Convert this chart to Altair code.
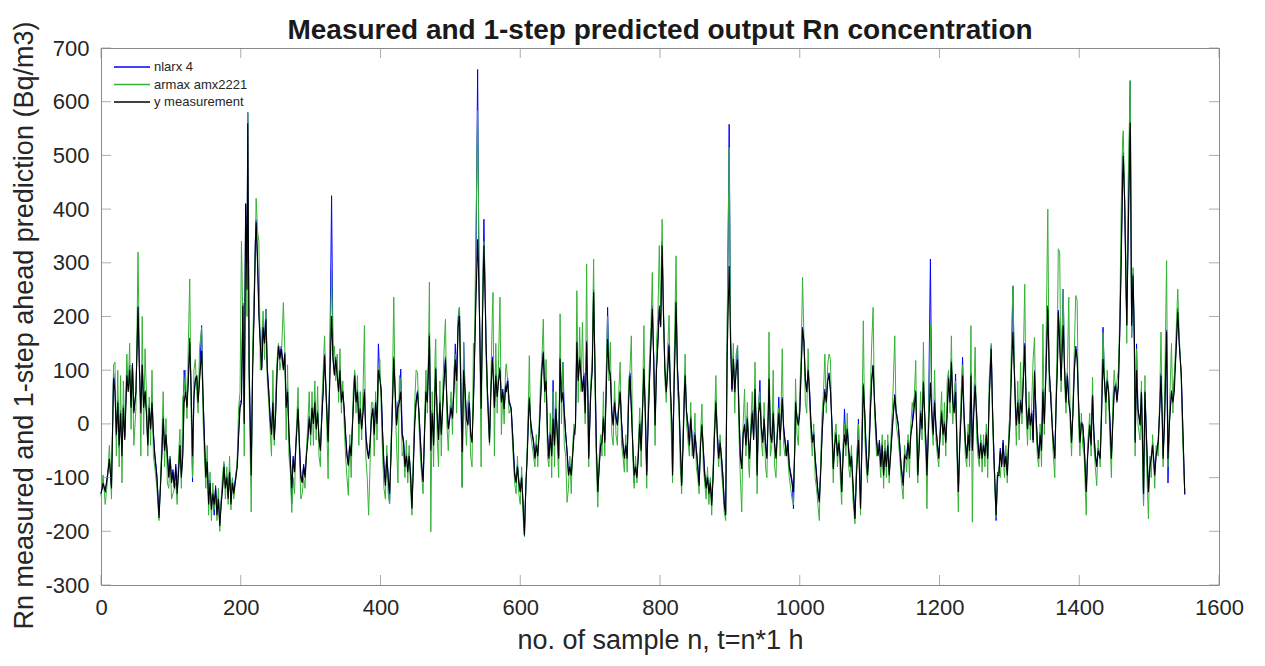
import altair as alt
import pandas as pd

SAMPLE_N = [
    0,3,6,9,12,15,18,20,22,24,
    26,28,30,32,34,37,39,41,43,45,
    47,50,53,55,57,59,61,63,65,67,
    69,71,73,75,77,80,83,85,87,89,
    91,93,95,97,99,101,103,105,107,109,
    111,113,115,117,119,121,123,125,127,129,
    131,133,135,137,139,141,144,146,148,150,
    152,154,156,158,160,162,164,166,168,170,
    172,174,176,178,180,182,184,186,188,190,
    193,195,197,199,201,203,205,207,209,210,
    212,215,217,219,221,222,224,226,228,230,
    232,234,236,238,240,242,244,246,248,250,
    252,254,256,258,261,263,265,267,269,271,
    273,275,277,279,282,284,286,288,290,292,
    294,296,298,300,302,304,306,308,310,312,
    314,316,318,320,322,325,327,330,332,334,
    336,338,340,342,344,346,348,350,352,354,
    356,358,361,363,365,367,369,371,373,375,
    377,379,381,383,385,387,389,391,393,395,
    397,399,401,403,405,407,409,411,413,415,
    417,419,421,423,425,427,429,431,433,435,
    437,439,441,443,445,447,449,451,453,455,
    457,459,461,463,465,467,469,470,472,474,
    476,478,479,481,483,485,487,489,491,493,
    495,497,499,501,503,505,507,509,511,513,
    515,517,519,521,523,525,527,529,531,533,
    534,536,539,541,544,546,548,550,551,553,
    556,558,560,561,563,565,567,569,571,573,
    575,577,579,580,582,584,587,589,592,594,
    596,598,600,602,604,606,608,610,612,613,
    615,617,619,621,623,625,627,629,631,633,
    635,637,639,641,643,645,647,649,651,653,
    655,657,659,661,663,665,667,669,671,673,
    675,677,679,681,683,685,687,689,691,693,
    695,697,698,700,701,703,705,707,709,711,
    713,715,717,719,721,723,725,727,729,731,
    733,735,737,739,741,743,745,747,749,751,
    753,755,757,759,761,763,765,767,769,771,
    773,775,777,779,781,783,785,787,789,791,
    793,795,797,799,801,803,805,807,809,811,
    813,815,817,818,820,823,825,827,829,831,
    833,835,836,838,840,842,844,846,848,850,
    852,854,856,858,860,862,864,866,868,870,
    872,874,876,878,880,882,884,886,888,890,
    892,894,896,899,901,903,905,907,909,911,
    913,915,917,919,921,923,925,927,928,930,
    932,934,936,938,939,941,943,945,947,949,
    951,953,955,956,958,960,962,964,966,968,
    970,972,975,977,979,981,983,985,987,989,
    991,993,994,996,998,1000,1002,1004,1006,1008,
    1010,1012,1014,1016,1018,1020,1022,1024,1026,1028,
    1030,1032,1034,1036,1038,1040,1042,1044,1046,1048,
    1050,1052,1054,1056,1058,1060,1062,1064,1066,1068,
    1070,1072,1074,1076,1079,1081,1084,1087,1089,1091,
    1093,1095,1097,1099,1101,1103,1105,1107,1110,1112,
    1114,1116,1118,1120,1122,1124,1126,1128,1130,1133,
    1136,1138,1141,1143,1145,1148,1150,1153,1155,1157,
    1159,1161,1163,1166,1168,1169,1171,1173,1175,1177,
    1179,1181,1182,1184,1187,1189,1191,1193,1195,1197,
    1199,1201,1203,1205,1207,1209,1211,1213,1215,1217,
    1219,1221,1223,1225,1227,1229,1231,1233,1235,1237,
    1239,1241,1243,1245,1247,1249,1251,1253,1255,1257,
    1259,1261,1263,1265,1267,1269,1271,1274,1276,1278,
    1281,1283,1285,1287,1289,1291,1293,1295,1297,1299,
    1301,1303,1305,1307,1309,1310,1312,1314,1316,1318,
    1320,1322,1324,1326,1328,1330,1332,1334,1336,1338,
    1340,1342,1344,1346,1348,1350,1352,1355,1357,1360,
    1362,1365,1367,1369,1370,1372,1374,1377,1379,1381,
    1383,1385,1387,1389,1391,1393,1395,1397,1399,1401,
    1403,1405,1407,1410,1412,1415,1417,1419,1421,1423,
    1425,1427,1430,1432,1434,1436,1438,1440,1442,1444,
    1446,1448,1450,1452,1454,1456,1458,1460,1462,1463,
    1465,1467,1468,1470,1473,1475,1477,1479,1480,1482,
    1484,1487,1489,1491,1492,1494,1496,1499,1501,1503,
    1505,1508,1510,1513,1515,1517,1519,1520,1522,1525,
    1527,1529,1532,1534,1536,1538,1541,1543,1546,1548,
    1551,
]

# y measurement (black)
Y_MEAS = [
    -130,-110,-125,-100,-65,-120,85,60,-20,40,
    -40,20,-60,30,-30,90,60,100,30,110,
    20,60,217,100,20,110,30,60,20,-40,
    30,-10,40,-20,-60,-100,-175,-120,-60,10,
    -50,-20,-60,-100,-65,-110,-90,-120,-80,-130,
    -90,-40,-100,-60,40,60,30,80,152,60,
    -60,50,80,90,40,80,136,50,-30,-100,
    -70,-150,-110,-160,-130,-150,-120,-170,-140,-190,
    -150,-120,-80,-120,-100,-140,-90,-150,-110,-130,
    -100,-80,-20,30,40,220,0,410,250,560,
    100,-96,100,200,340,375,300,200,150,100,
    180,150,195,100,60,10,-20,40,-30,20,
    100,145,120,140,100,130,30,60,-20,-70,
    -120,-65,-90,-40,28,-40,-100,-110,-80,-100,
    -60,-30,10,-20,30,0,40,-10,20,-30,
    -50,12,60,127,60,-34,60,201,120,90,
    120,90,60,100,40,60,28,-20,-60,-78,
    -40,-60,30,90,40,60,0,28,-10,20,
    60,-20,-50,-65,-40,10,28,-20,40,0,
    100,84,60,-20,-80,-115,-60,-100,-130,-60,
    30,121,60,-3,30,40,60,-20,-35,-80,
    -60,-90,-60,-96,-158,-80,0,40,59,20,
    -30,-80,-108,-20,60,40,120,164,-50,20,
    -40,60,102,20,-30,40,-20,30,80,120,
    40,-10,9,30,10,60,120,80,180,201,
    60,-53,100,60,10,-3,40,-20,-35,40,
    90,200,344,250,28,200,332,220,152,60,
    -35,60,120,100,30,90,50,80,100,40,
    60,28,70,59,80,40,28,-20,-96,-110,
    -80,-110,-127,-100,-150,-208,-115,-60,20,47,
    0,-20,-35,-65,-40,-60,-20,40,100,133,
    60,80,-20,-65,-20,-60,10,-40,28,-20,
    -65,121,40,59,20,-20,-53,-96,-80,-96,
    -60,-20,-3,152,80,120,90,60,90,20,
    152,40,-65,20,59,100,245,100,-50,-127,
    -80,-40,-35,10,-35,60,158,100,90,20,
    -3,40,10,-3,30,59,0,-40,-65,-40,
    -65,40,90,28,-40,-96,-80,-100,-60,0,
    -50,25,102,20,-96,0,80,150,214,120,
    -3,100,150,214,180,332,200,100,59,100,
    146,60,0,-96,60,226,100,47,-40,-115,
    -40,60,90,20,-3,-40,10,-30,-65,-20,
    -50,-80,-115,-40,-3,-50,-96,-120,-100,-130,
    -110,-152,-100,-20,40,-20,-65,-35,-65,-100,
    -150,-170,121,294,150,60,121,59,100,120,
    20,-60,-84,-20,-3,-40,10,-40,-65,-20,
    20,-30,65,-20,-96,20,40,-10,-35,10,
    -40,-65,20,84,-20,-35,20,-40,-65,-20,
    20,-30,47,-10,-35,-60,-35,-80,-96,-110,
    -127,-40,40,10,-3,20,100,177,152,80,
    59,100,60,0,-35,-20,-65,-96,-127,-146,
    -90,-20,30,60,40,80,90,60,0,-84,
    -40,-20,-60,-35,-65,-127,-60,-20,-40,-10,
    -50,-80,-60,-110,-177,-100,-30,-158,-40,71,
    20,-50,-96,-60,20,80,108,40,-35,-60,
    -35,-80,-40,-96,-50,-80,-40,-96,-60,0,
    53,20,-3,-40,-80,-115,-60,-65,-35,-65,
    -20,-3,20,59,-40,-96,-40,20,-10,77,
    10,-50,-96,-20,77,20,-20,40,-10,-40,
    -65,-20,20,-20,0,-35,20,84,40,115,
    40,20,60,-40,-127,-40,20,90,20,-35,
    -65,-20,-50,90,-50,20,71,20,-35,-65,
    -35,-65,-40,-60,-20,-65,40,140,20,-65,
    -170,-96,-96,-50,-80,-35,-80,-60,-96,-40,
    0,100,171,100,20,-3,40,0,40,20,
    80,146,40,-10,30,-3,20,-35,96,20,
    -35,-65,-20,-50,60,0,80,214,100,28,
    -20,-65,40,120,208,150,80,183,100,40,
    90,40,20,-35,20,100,140,120,40,-35,
    0,-3,-40,-127,-60,-3,-40,53,-20,-60,
    -80,-50,-65,20,121,80,40,80,59,0,
    -65,0,60,71,40,70,171,300,450,499,
    412,250,183,350,561,183,276,150,-35,100,
    28,-3,59,-60,-130,59,-20,-127,-80,-65,
    -40,-96,-60,-35,20,90,0,-65,0,171,
    -65,0,59,40,60,120,208,150,90,0,
    -130,
]

# armax amx2221 one-step prediction (green)
Y_ARMAX = [
    -135,-95,-150,-110,-40,-140,110,115,-60,100,
    -80,90,-110,80,-20,130,60,150,-10,110,
    -40,30,320,120,-60,200,-20,140,60,-60,
    50,-40,100,-60,-80,-120,-180,-110,-30,60,
    -80,10,-110,-120,-60,-140,-130,-120,-110,-150,
    -60,-10,-120,50,60,100,10,150,270,20,
    -100,100,120,60,20,140,180,10,-60,-120,
    -40,-170,-90,-180,-110,-160,-130,-180,-120,-200,
    -140,-95,-70,-140,-80,-150,-60,-160,-100,-140,
    -100,-60,30,60,340,200,-60,350,200,580,
    60,-164,150,240,330,420,360,340,100,160,
    210,120,214,80,40,-10,-60,100,-40,60,
    120,150,100,120,226,140,-30,110,-60,-90,
    -165,-100,-130,-30,68,-60,-140,-130,-100,-120,
    -50,0,60,-40,60,-40,80,-30,70,-60,
    -80,40,100,164,60,-102,80,288,130,145,
    80,130,40,140,20,80,0,-60,-100,-133,
    -20,-100,60,100,20,90,-40,60,-30,60,
    183,-60,-100,-170,-80,40,40,-60,60,-30,
    80,120,30,-60,-120,-140,-40,-130,-149,-40,
    60,236,40,-40,-110,90,80,-60,-50,-100,
    -30,-110,-40,-120,-170,-60,40,100,96,0,
    -60,-100,-130,0,100,20,160,264,-201,60,
    -80,120,158,-20,-80,80,-60,60,140,195,
    0,-50,20,60,-20,100,130,20,200,217,
    100,-118,152,20,-40,40,60,-60,-80,150,
    100,300,583,300,-80,250,340,250,130,40,
    -40,80,200,245,-60,150,20,120,236,-20,
    60,0,100,112,80,20,30,-40,-110,-130,
    -60,-130,-150,-80,-170,-210,-120,-40,60,127,
    -20,-40,-60,-80,-20,-80,0,80,120,195,
    40,120,-60,-80,20,-100,60,-80,60,-40,
    -100,205,0,115,-40,-60,-146,-120,-60,-130,
    -40,0,-20,248,40,180,60,189,60,0,
    298,-20,-80,40,80,120,307,60,-80,-155,
    -60,-20,-60,60,-60,100,200,80,152,-20,
    -40,80,-20,-40,60,115,-40,-60,-90,-20,
    -90,80,100,164,-60,-120,-60,-110,-40,30,
    -80,40,183,0,-120,40,120,180,282,100,
    -40,150,200,332,200,381,220,80,40,140,
    202,40,-60,-110,100,313,60,30,-80,-130,
    -20,80,130,0,-30,-60,40,-60,-40,20,
    -80,-100,-130,-20,37,-80,-110,-140,-80,-150,
    -100,-170,-80,0,90,-40,-80,-20,-90,-120,
    -165,-180,180,515,180,80,150,20,130,146,
    -20,-100,-164,0,65,-60,40,-80,-100,0,
    60,-20,115,-40,-130,40,60,-30,-60,40,
    -80,-100,40,171,-60,-40,100,-80,-100,0,
    30,-60,140,-40,-60,-40,-60,-100,-120,-140,
    -150,-20,84,-20,-40,60,130,273,160,40,
    20,140,40,-20,-60,0,-100,-120,-150,-180,
    -60,20,60,130,20,110,130,120,-20,-110,
    -20,0,-80,-20,-100,-150,-40,0,-60,20,
    -80,-100,-40,-140,-186,-80,0,-170,0,192,
    -20,-80,-110,-40,60,150,217,20,-60,-40,
    -60,-100,-20,-120,-30,-100,-20,-110,-40,40,
    164,0,-30,-60,-100,-140,-40,-90,-20,-100,
    0,40,20,118,-80,-110,-20,60,-30,152,
    -20,-80,-158,0,186,0,-40,100,-30,-60,
    -80,0,60,-40,40,-60,80,100,20,164,
    0,60,80,-60,-164,-20,60,110,0,-60,
    -80,0,-80,183,-183,40,143,-20,-60,-80,
    -20,-90,-20,-80,0,-100,80,150,0,-80,
    -175,-110,-80,-100,-60,-60,-100,-40,-110,-20,
    30,150,257,120,0,-40,80,-30,115,0,
    120,260,20,-40,60,-30,40,121,161,0,
    -60,-80,0,-80,186,-20,100,400,60,60,
    -40,-100,60,200,326,320,60,251,80,20,
    100,236,0,-60,40,140,239,230,0,-60,
    20,-40,-60,-170,-40,20,-60,87,-40,-80,
    -115,-30,-80,60,170,100,0,100,50,-30,
    -100,40,100,60,80,100,200,400,530,546,
    420,300,150,450,639,160,291,100,-60,140,
    0,-30,80,-100,-152,90,-60,-177,-60,-100,
    -20,-120,-40,-60,40,171,-20,-80,40,304,
    -80,20,150,20,84,150,251,170,80,-30,
    -130,
]

# nlarx 4 one-step prediction (blue)
Y_NLARX = [
    -130,-112,-128,-98,-70,-115,95,70,-25,45,
    -45,25,-55,35,-25,100,70,110,35,113,
    25,60,220,105,25,110,35,62,25,-35,
    35,-5,45,-15,-55,-95,-170,-118,-55,15,
    -45,-25,-55,-95,-60,-105,-85,-118,-75,-125,
    -85,-40,-95,-55,100,65,35,85,160,65,
    -108,55,85,90,45,85,183,55,-25,-95,
    -65,-145,-105,-155,-125,-170,-115,-165,-135,-185,
    -145,-115,-75,-115,-95,-135,-85,-145,-105,-125,
    -95,-75,-15,40,45,225,5,410,300,580,
    110,-90,105,210,345,380,310,210,155,105,
    185,155,214,105,65,15,-15,45,-25,25,
    105,148,125,145,105,133,35,65,-15,-65,
    -149,-60,-85,-35,32,-35,-95,-105,-75,-95,
    -55,-25,15,-15,28,5,45,-5,25,-25,
    -45,12,65,130,65,-30,65,425,125,95,
    125,95,65,105,45,62,30,-15,-55,-75,
    -35,-55,35,95,45,65,5,30,-5,25,
    65,-15,-45,-60,-35,15,30,-15,45,5,
    149,90,65,-15,-75,-110,-55,-95,-149,-55,
    35,125,65,0,40,45,102,-15,-30,-75,
    -55,-85,-55,-90,-155,-75,5,45,62,25,
    -25,-75,-105,-15,65,45,125,170,-45,25,
    -35,65,105,25,-25,45,-15,35,85,125,
    45,-5,12,35,15,65,149,85,190,217,
    65,-118,152,65,15,0,45,-15,-30,45,
    95,210,660,255,30,205,381,225,155,65,
    -30,65,125,105,35,95,55,85,105,45,
    65,30,75,62,85,45,30,-15,-90,-105,
    -75,-105,-125,-95,-145,-205,-118,-55,25,50,
    5,-15,-30,-60,-35,-55,-15,45,105,135,
    65,85,-15,-60,-15,-55,81,-35,30,-15,
    -60,125,45,115,25,-15,-50,-90,-75,-90,
    -55,-15,0,155,85,125,95,65,95,25,
    155,45,-60,25,62,105,250,105,-45,-125,
    -75,-35,-30,15,-30,65,217,105,95,25,
    0,45,15,0,35,62,5,-35,-60,-35,
    -60,45,95,30,-35,-110,-75,-95,-55,5,
    -45,28,105,25,-90,5,85,155,220,125,
    0,105,155,220,185,340,205,105,62,105,
    150,65,5,-90,65,230,105,50,-35,-110,
    -35,65,95,25,0,-35,15,-25,-60,-15,
    -45,-75,-110,-35,0,-45,-90,-115,-95,-125,
    -105,-145,-95,-15,45,-15,-60,-30,-60,-95,
    -145,-165,125,558,155,65,125,65,105,146,
    25,-55,-80,-15,0,-35,15,-35,-60,-15,
    25,-25,70,-15,-90,25,81,-5,-30,15,
    -35,-60,25,90,-15,-30,25,-35,-60,-15,
    50,-25,50,-5,-30,-55,-30,-75,-90,-105,
    -158,-35,45,15,0,25,105,180,155,85,
    62,105,65,5,-30,-15,-60,-90,-125,-140,
    -85,-15,35,65,45,85,95,65,5,-80,
    -35,-15,-55,-30,-60,-125,-55,28,-35,-5,
    -45,-75,-55,-105,-175,-95,9,-150,-35,75,
    25,-45,-90,-55,25,85,110,45,-30,-55,
    -30,-75,-35,-90,-45,-75,-35,-90,-55,5,
    55,25,0,-35,-75,-110,-55,-60,-30,-60,
    -15,0,40,62,-35,-90,-35,25,-5,80,
    15,-45,-90,-15,307,25,-15,45,-5,-35,
    -60,-15,25,-15,5,-30,25,90,45,120,
    45,25,93,-35,-125,-35,25,124,25,-30,
    -60,-15,-45,95,-45,25,75,25,-30,-60,
    -30,-60,-35,-55,-15,-60,45,145,25,-60,
    -180,-90,-90,-45,-75,-30,-75,-55,-90,-35,
    31,105,257,105,25,0,45,5,45,25,
    85,150,45,-5,35,0,25,-30,100,25,
    -30,-60,-15,-45,65,5,85,220,105,30,
    -15,-60,45,125,212,155,85,251,105,45,
    95,45,25,-30,25,105,145,125,45,-30,
    5,0,-35,-125,-55,0,-35,55,-15,-55,
    -75,-45,-60,25,180,85,45,85,62,5,
    -60,5,65,75,45,75,175,310,460,505,
    415,255,185,360,639,161,280,155,-30,149,
    30,0,62,-55,-152,62,-15,-125,-75,-60,
    -35,-90,-55,-30,25,95,5,-60,5,175,
    -110,5,62,45,84,125,215,155,95,5,
    -132,
]

X_TICKS = [0, 200, 400, 600, 800, 1000, 1200, 1400, 1600]
Y_TICKS = [-300, -200, -100, 0, 100, 200, 300, 400, 500, 600, 700]

LEGEND_LABELS = ["nlarx 4", "armax amx2221", "y measurement"]
LEGEND_COLORS = ["#0000ff", "#36b236", "#000000"]

assert len(SAMPLE_N) == len(Y_MEAS) == len(Y_ARMAX) == len(Y_NLARX), (
    len(SAMPLE_N), len(Y_MEAS), len(Y_ARMAX), len(Y_NLARX))

df = pd.DataFrame({"n": SAMPLE_N, "meas": Y_MEAS, "armax": Y_ARMAX, "nlarx": Y_NLARX})
xt = pd.DataFrame({"v": X_TICKS})
yt = pd.DataFrame({"v": Y_TICKS})
leg = pd.DataFrame({"label": LEGEND_LABELS, "color": LEGEND_COLORS, "i": [0, 1, 2]})

W, H = 1118, 537
FONT = "Liberation Sans"
TXT = "#262626"
FRAME = "#8a8a8a"

x_scale = alt.Scale(domain=[0, 1600], nice=False, zero=False)
y_scale = alt.Scale(domain=[-300, 700], nice=False, zero=False)

x_axis = alt.Axis(values=X_TICKS, title="no. of sample n, t=n*1 h", grid=False,
                  ticks=False, tickSize=0, domain=False, labelPadding=12,
                  titleY=42, labelFlush=False, labelExpr="'' + datum.value")
y_axis = alt.Axis(values=Y_TICKS, title="Rn measured and 1-step ahead prediction (Bq/m3)",
                  grid=False, ticks=False, tickSize=0, domain=False, labelPadding=12,
                  titleX=-63, titleY=277, titleAngle=270, labelFlush=False,
                  labelExpr="'' + datum.value")

X = alt.X("n:Q", scale=x_scale, axis=x_axis)

blue = alt.Chart(df).mark_line(color="#0000ff", strokeWidth=1).encode(
    x=X, y=alt.Y("nlarx:Q", scale=y_scale, axis=y_axis))
green = alt.Chart(df).mark_line(color="#36b236", strokeWidth=1).encode(
    x=X, y=alt.Y("armax:Q", scale=y_scale, axis=y_axis))
black = alt.Chart(df).mark_line(color="#000000", strokeWidth=1.1).encode(
    x=X, y=alt.Y("meas:Q", scale=y_scale, axis=y_axis))

tick_kw = dict(color=FRAME, size=10, thickness=1)
left_ticks = alt.Chart(yt).mark_tick(orient="horizontal", **tick_kw).encode(
    y=alt.Y("v:Q", scale=y_scale, axis=y_axis), x=alt.value(5))
right_ticks = alt.Chart(yt).mark_tick(orient="horizontal", **tick_kw).encode(
    y=alt.Y("v:Q", scale=y_scale, axis=y_axis), x=alt.value(W - 5))
bottom_ticks = alt.Chart(xt).mark_tick(orient="vertical", **tick_kw).encode(
    x=alt.X("v:Q", scale=x_scale, axis=x_axis), y=alt.value(H - 5))
top_ticks = alt.Chart(xt).mark_tick(orient="vertical", **tick_kw).encode(
    x=alt.X("v:Q", scale=x_scale, axis=x_axis), y=alt.value(5))

main = alt.layer(blue, green, black, left_ticks, right_ticks, bottom_ticks, top_ticks)

leg_base = alt.Chart(leg).transform_calculate(py="19 + datum.i * 17.5")
leg_rule = leg_base.mark_rule(strokeWidth=1.5).encode(
    x=alt.value(13), x2=alt.value(49),
    y=alt.Y("py:Q", scale=None, axis=None),
    color=alt.Color("color:N", scale=None, legend=None))
leg_text = leg_base.mark_text(align="left", baseline="middle", fontSize=13,
                              font=FONT, color=TXT).encode(
    x=alt.value(53), y=alt.Y("py:Q", scale=None, axis=None), text="label:N")
legend = alt.layer(leg_rule, leg_text)

chart = alt.layer(main, legend).resolve_scale(y="independent", color="independent").properties(
    width=W, height=H,
    autosize=alt.AutoSizeParams(type="none"),
    padding={"left": 93, "top": 40, "right": 30, "bottom": 70},
    background="white",
    title=alt.TitleParams("Measured and 1-step predicted output Rn concentration",
                          fontSize=28, fontWeight="bold", font=FONT, color="#1a1a1a",
                          anchor="middle", offset=-7, dy=17),
).configure_view(
    stroke=FRAME, strokeWidth=1
).configure_axis(
    labelFont=FONT, titleFont=FONT, labelFontSize=22, titleFontSize=27,
    labelColor=TXT, titleColor=TXT, titleFontWeight="normal"
)

chart.save("out.html", embed_options={"renderer": "svg", "actions": False})
